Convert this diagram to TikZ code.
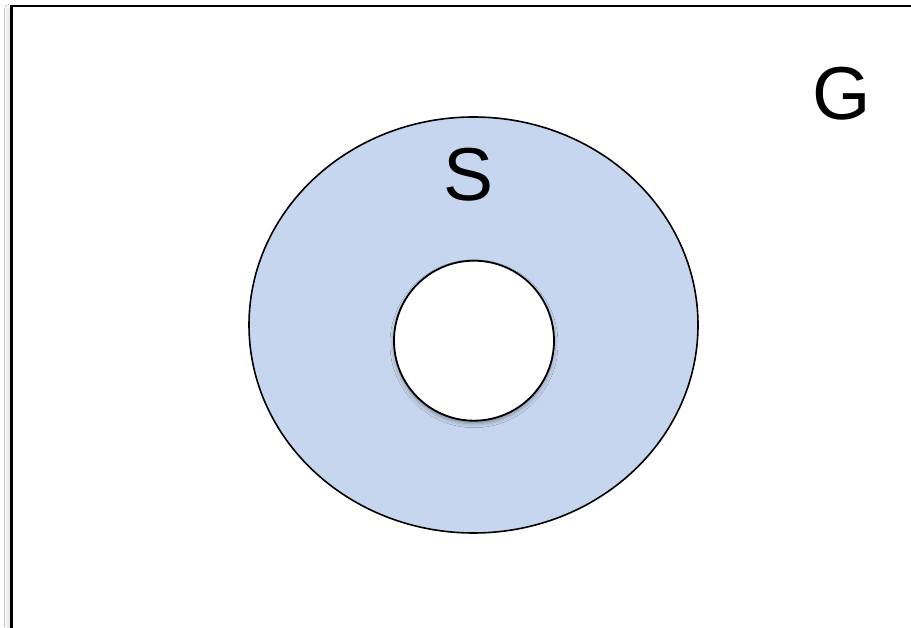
\documentclass[tikz,border=0pt]{standalone}
\usepackage{fontspec}
\setmainfont{Liberation Sans}
\usetikzlibrary{shapes.geometric,shadows.blur}
\definecolor{setblue}{RGB}{199,214,239}
\tikzset{
  x=1pt,y=1pt,
  lbl/.style={inner sep=0pt,font=\fontsize{75}{75}\selectfont},
  outerset/.style={ellipse,draw=black,line width=1.6pt,fill=setblue,inner sep=0pt,minimum width=449pt,minimum height=416pt},
  hole/.style={circle,draw=black,line width=1.8pt,fill=white,inner sep=0pt,minimum size=160pt,blur shadow={shadow xshift=0pt,shadow yshift=-3pt,shadow blur radius=4pt,shadow opacity=35}},
  frame/.style={draw=black,fill=white,line width=2.5pt,blur shadow={shadow xshift=-2pt,shadow yshift=-3pt,shadow blur radius=5pt,shadow opacity=20}}
}
\begin{document}
\begin{tikzpicture}
\useasboundingbox (0,0) rectangle (911,627);
\clip (0,0) rectangle (911,627);
\fill[white] (0,0) rectangle (911,627);
\node[frame,minimum width=920pt,minimum height=640pt,anchor=north west,inner sep=0pt] (G) at (10,622) {};
\node[outerset] (S) at (473.5,302) {};
\node[hole] (H) at (474,286.3) {};
\node[lbl] (Slabel) at (468.7,452.3) {S};
\node[lbl] (Glabel) at (841.5,533.5) {G};
\end{tikzpicture}
\end{document}
